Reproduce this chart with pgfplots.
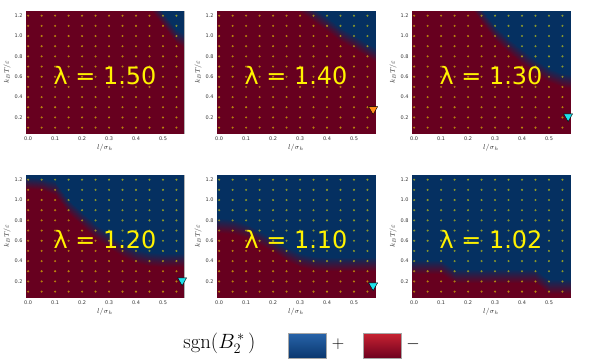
\documentclass[border=0pt]{standalone}
\usepackage[no-math]{fontspec}
\setmainfont{DejaVu Sans}
\usepackage{pgfplots}
\pgfplotsset{compat=1.18}
\usepackage{pgfplotstable}

\definecolor{rdred}{RGB}{103,0,31}
\definecolor{rdblue}{RGB}{5,48,97}
\definecolor{triorange}{RGB}{255,140,25}
\definecolor{tricyan}{RGB}{30,225,235}

\pgfplotsset{
  frame/.style={
    width=158bp, height=122bp, scale only axis,
    xmin=-0.008, xmax=0.578, ymin=0.047, ymax=1.246,
  },
  signmap/.style={
    frame,
    xtick={0,0.1,0.2,0.3,0.4,0.5}, ytick={0.2,0.4,0.6,0.8,1.0,1.2},
    /pgf/number format/.cd, fixed, fixed zerofill, precision=1, assume math mode=true,
    /pgfplots/.cd,
    tick label style={font=\fontsize{5}{6}\selectfont, text=black!80},
    major tick length=0pt,
    axis line style={gray!60},
    xlabel={$l/\sigma_h$}, ylabel={$k_B T/\varepsilon$},
    label style={font=\fontsize{7}{8}\selectfont, text=black!80},
    xlabel style={yshift=3bp}, ylabel style={yshift=-3bp},
    colormap={rb}{color(0)=(rdred) color(1)=(rdblue)},
    point meta min=-1, point meta max=1,
  },
  overlay/.style={frame, hide axis, clip=false},
  field/.style={surf, shader=interp, mesh/cols=4, point meta=explicit},
  dots/.style={only marks, mark=*, mark size=0.9bp, color=yellow, opacity=0.38},
  edge/.style={only marks, mark=triangle*, mark size=5.2bp, mark options={rotate=180, draw=none, fill=#1}},
}
\tikzset{lam/.style={text=yellow, font=\fontsize{24}{28}\selectfont}}

% sample grid (yellow dots)
\pgfplotstableread[row sep=\\]{
x y\\
0 0.1\\0.05 0.1\\0.1 0.1\\0.15 0.1\\0.2 0.1\\0.25 0.1\\0.3 0.1\\0.35 0.1\\0.4 0.1\\0.45 0.1\\0.5 0.1\\0.55 0.1\\
0 0.2\\0.05 0.2\\0.1 0.2\\0.15 0.2\\0.2 0.2\\0.25 0.2\\0.3 0.2\\0.35 0.2\\0.4 0.2\\0.45 0.2\\0.5 0.2\\0.55 0.2\\
0 0.3\\0.05 0.3\\0.1 0.3\\0.15 0.3\\0.2 0.3\\0.25 0.3\\0.3 0.3\\0.35 0.3\\0.4 0.3\\0.45 0.3\\0.5 0.3\\0.55 0.3\\
0 0.4\\0.05 0.4\\0.1 0.4\\0.15 0.4\\0.2 0.4\\0.25 0.4\\0.3 0.4\\0.35 0.4\\0.4 0.4\\0.45 0.4\\0.5 0.4\\0.55 0.4\\
0 0.5\\0.05 0.5\\0.1 0.5\\0.15 0.5\\0.2 0.5\\0.25 0.5\\0.3 0.5\\0.35 0.5\\0.4 0.5\\0.45 0.5\\0.5 0.5\\0.55 0.5\\
0 0.6\\0.05 0.6\\0.1 0.6\\0.15 0.6\\0.2 0.6\\0.25 0.6\\0.3 0.6\\0.35 0.6\\0.4 0.6\\0.45 0.6\\0.5 0.6\\0.55 0.6\\
0 0.7\\0.05 0.7\\0.1 0.7\\0.15 0.7\\0.2 0.7\\0.25 0.7\\0.3 0.7\\0.35 0.7\\0.4 0.7\\0.45 0.7\\0.5 0.7\\0.55 0.7\\
0 0.8\\0.05 0.8\\0.1 0.8\\0.15 0.8\\0.2 0.8\\0.25 0.8\\0.3 0.8\\0.35 0.8\\0.4 0.8\\0.45 0.8\\0.5 0.8\\0.55 0.8\\
0 0.9\\0.05 0.9\\0.1 0.9\\0.15 0.9\\0.2 0.9\\0.25 0.9\\0.3 0.9\\0.35 0.9\\0.4 0.9\\0.45 0.9\\0.5 0.9\\0.55 0.9\\
0 1.0\\0.05 1.0\\0.1 1.0\\0.15 1.0\\0.2 1.0\\0.25 1.0\\0.3 1.0\\0.35 1.0\\0.4 1.0\\0.45 1.0\\0.5 1.0\\0.55 1.0\\
0 1.1\\0.05 1.1\\0.1 1.1\\0.15 1.1\\0.2 1.1\\0.25 1.1\\0.3 1.1\\0.35 1.1\\0.4 1.1\\0.45 1.1\\0.5 1.1\\0.55 1.1\\
0 1.2\\0.05 1.2\\0.1 1.2\\0.15 1.2\\0.2 1.2\\0.25 1.2\\0.3 1.2\\0.35 1.2\\0.4 1.2\\0.45 1.2\\0.5 1.2\\0.55 1.2\\
}\gridpts

% sign fields: per column of x, sign -1 below the boundary band, +1 above
\pgfplotstableread[row sep=\\]{
x y c\\
-0.05 -0.3 -1\\-0.05 1.43 -1\\-0.05 1.57 1\\-0.05 1.6 1\\
0 -0.3 -1\\0 1.43 -1\\0 1.57 1\\0 1.6 1\\
0.05 -0.3 -1\\0.05 1.43 -1\\0.05 1.57 1\\0.05 1.6 1\\
0.1 -0.3 -1\\0.1 1.43 -1\\0.1 1.57 1\\0.1 1.6 1\\
0.15 -0.3 -1\\0.15 1.43 -1\\0.15 1.57 1\\0.15 1.6 1\\
0.2 -0.3 -1\\0.2 1.43 -1\\0.2 1.57 1\\0.2 1.6 1\\
0.25 -0.3 -1\\0.25 1.43 -1\\0.25 1.57 1\\0.25 1.6 1\\
0.3 -0.3 -1\\0.3 1.43 -1\\0.3 1.57 1\\0.3 1.6 1\\
0.35 -0.3 -1\\0.35 1.43 -1\\0.35 1.57 1\\0.35 1.6 1\\
0.4 -0.3 -1\\0.4 1.43 -1\\0.4 1.57 1\\0.4 1.6 1\\
0.45 -0.3 -1\\0.45 1.28 -1\\0.45 1.42 1\\0.45 1.6 1\\
0.5 -0.3 -1\\0.5 1.10 -1\\0.5 1.24 1\\0.5 1.6 1\\
0.55 -0.3 -1\\0.55 0.93 -1\\0.55 1.07 1\\0.55 1.6 1\\
0.6 -0.3 -1\\0.6 0.85 -1\\0.6 0.99 1\\0.6 1.6 1\\
}\fieldA

\pgfplotstableread[row sep=\\]{
x y c\\
-0.05 -0.3 -1\\-0.05 1.43 -1\\-0.05 1.57 1\\-0.05 1.6 1\\
0 -0.3 -1\\0 1.43 -1\\0 1.57 1\\0 1.6 1\\
0.05 -0.3 -1\\0.05 1.43 -1\\0.05 1.57 1\\0.05 1.6 1\\
0.1 -0.3 -1\\0.1 1.43 -1\\0.1 1.57 1\\0.1 1.6 1\\
0.15 -0.3 -1\\0.15 1.43 -1\\0.15 1.57 1\\0.15 1.6 1\\
0.2 -0.3 -1\\0.2 1.43 -1\\0.2 1.57 1\\0.2 1.6 1\\
0.25 -0.3 -1\\0.25 1.36 -1\\0.25 1.50 1\\0.25 1.6 1\\
0.3 -0.3 -1\\0.3 1.24 -1\\0.3 1.38 1\\0.3 1.6 1\\
0.35 -0.3 -1\\0.35 1.14 -1\\0.35 1.28 1\\0.35 1.6 1\\
0.4 -0.3 -1\\0.4 1.05 -1\\0.4 1.19 1\\0.4 1.6 1\\
0.45 -0.3 -1\\0.45 0.95 -1\\0.45 1.09 1\\0.45 1.6 1\\
0.5 -0.3 -1\\0.5 0.87 -1\\0.5 1.01 1\\0.5 1.6 1\\
0.55 -0.3 -1\\0.55 0.79 -1\\0.55 0.93 1\\0.55 1.6 1\\
0.6 -0.3 -1\\0.6 0.72 -1\\0.6 0.86 1\\0.6 1.6 1\\
}\fieldB

\pgfplotstableread[row sep=\\]{
x y c\\
-0.05 -0.3 -1\\-0.05 1.43 -1\\-0.05 1.57 1\\-0.05 1.6 1\\
0 -0.3 -1\\0 1.43 -1\\0 1.57 1\\0 1.6 1\\
0.05 -0.3 -1\\0.05 1.43 -1\\0.05 1.57 1\\0.05 1.6 1\\
0.1 -0.3 -1\\0.1 1.43 -1\\0.1 1.57 1\\0.1 1.6 1\\
0.15 -0.3 -1\\0.15 1.43 -1\\0.15 1.57 1\\0.15 1.6 1\\
0.2 -0.3 -1\\0.2 1.31 -1\\0.2 1.45 1\\0.2 1.6 1\\
0.25 -0.3 -1\\0.25 1.13 -1\\0.25 1.27 1\\0.25 1.6 1\\
0.3 -0.3 -1\\0.3 0.96 -1\\0.3 1.10 1\\0.3 1.6 1\\
0.35 -0.3 -1\\0.35 0.83 -1\\0.35 0.97 1\\0.35 1.6 1\\
0.4 -0.3 -1\\0.4 0.73 -1\\0.4 0.87 1\\0.4 1.6 1\\
0.45 -0.3 -1\\0.45 0.63 -1\\0.45 0.77 1\\0.45 1.6 1\\
0.5 -0.3 -1\\0.5 0.55 -1\\0.5 0.69 1\\0.5 1.6 1\\
0.55 -0.3 -1\\0.55 0.50 -1\\0.55 0.64 1\\0.55 1.6 1\\
0.6 -0.3 -1\\0.6 0.48 -1\\0.6 0.62 1\\0.6 1.6 1\\
}\fieldC

\pgfplotstableread[row sep=\\]{
x y c\\
-0.05 -0.3 -1\\-0.05 1.11 -1\\-0.05 1.23 1\\-0.05 1.6 1\\
0 -0.3 -1\\0 1.11 -1\\0 1.23 1\\0 1.6 1\\
0.05 -0.3 -1\\0.05 1.10 -1\\0.05 1.22 1\\0.05 1.6 1\\
0.1 -0.3 -1\\0.1 1.05 -1\\0.1 1.19 1\\0.1 1.6 1\\
0.15 -0.3 -1\\0.15 0.86 -1\\0.15 1.00 1\\0.15 1.6 1\\
0.2 -0.3 -1\\0.2 0.74 -1\\0.2 0.88 1\\0.2 1.6 1\\
0.25 -0.3 -1\\0.25 0.62 -1\\0.25 0.76 1\\0.25 1.6 1\\
0.3 -0.3 -1\\0.3 0.53 -1\\0.3 0.67 1\\0.3 1.6 1\\
0.35 -0.3 -1\\0.35 0.44 -1\\0.35 0.58 1\\0.35 1.6 1\\
0.4 -0.3 -1\\0.4 0.38 -1\\0.4 0.52 1\\0.4 1.6 1\\
0.45 -0.3 -1\\0.45 0.35 -1\\0.45 0.49 1\\0.45 1.6 1\\
0.5 -0.3 -1\\0.5 0.34 -1\\0.5 0.48 1\\0.5 1.6 1\\
0.55 -0.3 -1\\0.55 0.34 -1\\0.55 0.48 1\\0.55 1.6 1\\
0.6 -0.3 -1\\0.6 0.34 -1\\0.6 0.48 1\\0.6 1.6 1\\
}\fieldD

\pgfplotstableread[row sep=\\]{
x y c\\
-0.05 -0.3 -1\\-0.05 0.68 -1\\-0.05 0.82 1\\-0.05 1.6 1\\
0 -0.3 -1\\0 0.68 -1\\0 0.82 1\\0 1.6 1\\
0.05 -0.3 -1\\0.05 0.67 -1\\0.05 0.81 1\\0.05 1.6 1\\
0.1 -0.3 -1\\0.1 0.63 -1\\0.1 0.77 1\\0.1 1.6 1\\
0.15 -0.3 -1\\0.15 0.56 -1\\0.15 0.70 1\\0.15 1.6 1\\
0.2 -0.3 -1\\0.2 0.49 -1\\0.2 0.63 1\\0.2 1.6 1\\
0.25 -0.3 -1\\0.25 0.40 -1\\0.25 0.54 1\\0.25 1.6 1\\
0.3 -0.3 -1\\0.3 0.34 -1\\0.3 0.48 1\\0.3 1.6 1\\
0.35 -0.3 -1\\0.35 0.31 -1\\0.35 0.45 1\\0.35 1.6 1\\
0.4 -0.3 -1\\0.4 0.30 -1\\0.4 0.44 1\\0.4 1.6 1\\
0.45 -0.3 -1\\0.45 0.30 -1\\0.45 0.44 1\\0.45 1.6 1\\
0.5 -0.3 -1\\0.5 0.30 -1\\0.5 0.44 1\\0.5 1.6 1\\
0.55 -0.3 -1\\0.55 0.30 -1\\0.55 0.44 1\\0.55 1.6 1\\
0.6 -0.3 -1\\0.6 0.30 -1\\0.6 0.44 1\\0.6 1.6 1\\
}\fieldE

\pgfplotstableread[row sep=\\]{
x y c\\
-0.05 -0.3 -1\\-0.05 0.27 -1\\-0.05 0.41 1\\-0.05 1.6 1\\
0 -0.3 -1\\0 0.27 -1\\0 0.41 1\\0 1.6 1\\
0.05 -0.3 -1\\0.05 0.27 -1\\0.05 0.41 1\\0.05 1.6 1\\
0.1 -0.3 -1\\0.1 0.27 -1\\0.1 0.41 1\\0.1 1.6 1\\
0.15 -0.3 -1\\0.15 0.18 -1\\0.15 0.32 1\\0.15 1.6 1\\
0.2 -0.3 -1\\0.2 0.18 -1\\0.2 0.32 1\\0.2 1.6 1\\
0.25 -0.3 -1\\0.25 0.18 -1\\0.25 0.32 1\\0.25 1.6 1\\
0.3 -0.3 -1\\0.3 0.18 -1\\0.3 0.32 1\\0.3 1.6 1\\
0.35 -0.3 -1\\0.35 0.18 -1\\0.35 0.32 1\\0.35 1.6 1\\
0.4 -0.3 -1\\0.4 0.18 -1\\0.4 0.32 1\\0.4 1.6 1\\
0.45 -0.3 -1\\0.45 0.18 -1\\0.45 0.32 1\\0.45 1.6 1\\
0.5 -0.3 -1\\0.5 0.08 -1\\0.5 0.22 1\\0.5 1.6 1\\
0.55 -0.3 -1\\0.55 0.08 -1\\0.55 0.22 1\\0.55 1.6 1\\
0.6 -0.3 -1\\0.6 0.08 -1\\0.6 0.22 1\\0.6 1.6 1\\
}\fieldF

\begin{document}
\begin{tikzpicture}
\useasboundingbox (0bp,0bp) rectangle (595bp,-364bp);

\begin{axis}[signmap, at={(26bp,-133bp)}, anchor=south west]
  \addplot[field] table[meta=c] {\fieldA};
  \addplot[dots] table {\gridpts};
  \node[lam] at (axis cs:0.285,0.61) {λ = 1.50};
\end{axis}

\begin{axis}[signmap, at={(217bp,-133bp)}, anchor=south west]
  \addplot[field] table[meta=c] {\fieldB};
  \addplot[dots] table {\gridpts};
  \node[lam] at (axis cs:0.285,0.61) {λ = 1.40};
\end{axis}
\begin{axis}[overlay, at={(217bp,-133bp)}, anchor=south west]
  \addplot[edge=triorange] coordinates {(0.571,0.28)};
\end{axis}

\begin{axis}[signmap, at={(412bp,-133bp)}, anchor=south west]
  \addplot[field] table[meta=c] {\fieldC};
  \addplot[dots] table {\gridpts};
  \node[lam] at (axis cs:0.285,0.61) {λ = 1.30};
\end{axis}
\begin{axis}[overlay, at={(412bp,-133bp)}, anchor=south west]
  \addplot[edge=tricyan] coordinates {(0.571,0.21)};
\end{axis}

\begin{axis}[signmap, at={(26bp,-297bp)}, anchor=south west]
  \addplot[field] table[meta=c] {\fieldD};
  \addplot[dots] table {\gridpts};
  \node[lam] at (axis cs:0.285,0.61) {λ = 1.20};
\end{axis}
\begin{axis}[overlay, at={(26bp,-297bp)}, anchor=south west]
  \addplot[edge=tricyan] coordinates {(0.571,0.21)};
\end{axis}

\begin{axis}[signmap, at={(217bp,-297bp)}, anchor=south west]
  \addplot[field] table[meta=c] {\fieldE};
  \addplot[dots] table {\gridpts};
  \node[lam] at (axis cs:0.285,0.61) {λ = 1.10};
\end{axis}
\begin{axis}[overlay, at={(217bp,-297bp)}, anchor=south west]
  \addplot[edge=tricyan] coordinates {(0.571,0.16)};
\end{axis}

\begin{axis}[signmap, at={(412bp,-297bp)}, anchor=south west]
  \addplot[field] table[meta=c] {\fieldF};
  \addplot[dots] table {\gridpts};
  \node[lam] at (axis cs:0.285,0.61) {λ = 1.02};
\end{axis}

% legend
\node[font=\fontsize{21}{24}\selectfont] at (219.5bp,-343bp) {$\mathrm{sgn}(B_2^{\,*}\,)$};
\shade[top color={rgb,255:red,40;green,100;blue,170}, bottom color={rgb,255:red,10;green,55;blue,110}, draw=gray!70]
  (288bp,-333bp) rectangle (326bp,-358bp);
\node[font=\fontsize{17}{20}\selectfont] at (338bp,-344bp) {$+$};
\shade[top color={rgb,255:red,200;green,35;blue,50}, bottom color={rgb,255:red,110;green,0;blue,30}, draw=gray!70]
  (363bp,-333bp) rectangle (401bp,-358bp);
\node[font=\fontsize{17}{20}\selectfont] at (413bp,-344bp) {$-$};
\end{tikzpicture}
\end{document}
